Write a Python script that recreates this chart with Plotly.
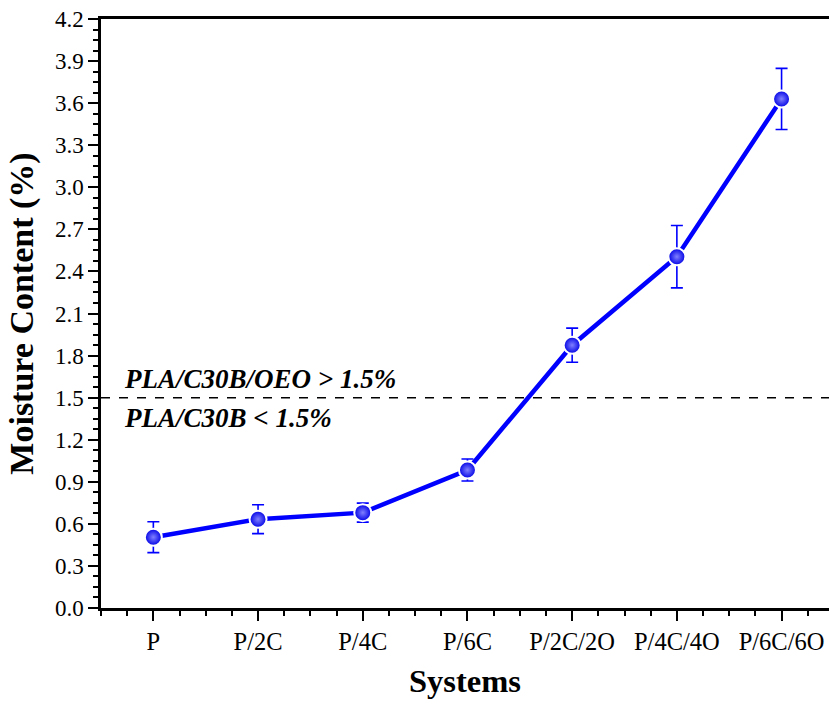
import plotly.graph_objects as go

systems = ["P", "P/2C", "P/4C", "P/6C", "P/2C/2O", "P/4C/4O", "P/6C/6O"]
moisture = [0.505, 0.633, 0.680, 0.984, 1.874, 2.505, 3.630]
errors = [0.110, 0.103, 0.068, 0.078, 0.122, 0.222, 0.218]
threshold = 1.5
label_above = "PLA/C30B/OEO > 1.5%"
label_below = "PLA/C30B < 1.5%"

xpos = list(range(len(systems)))
FONT = "Liberation Serif, Times New Roman, serif"
BLUE = "#0000FF"

fig = go.Figure()
fig.add_trace(go.Scatter(
    x=xpos, y=moisture, mode="lines",
    line=dict(color=BLUE, width=4.5),
    hoverinfo="skip", showlegend=False,
))
fig.add_trace(go.Scatter(
    x=xpos, y=moisture, mode="markers",
    error_y=dict(type="data", array=errors, visible=True, color=BLUE,
                 thickness=1.6, width=6),
    marker=dict(size=17, color="#0000E6",
                gradient=dict(type="radial", color="#8080FF"),
                line=dict(color="white", width=2)),
    showlegend=False,
))

fig.add_shape(type="line", xref="paper", x0=0, x1=1, yref="y", y0=threshold, y1=threshold,
              line=dict(color="black", width=1.5, dash="dash"))

fig.add_annotation(xref="paper", x=0.029, xanchor="left", yref="y", y=1.633, yanchor="middle",
                   text=label_above, showarrow=False,
                   font=dict(family=FONT, size=27, color="black", weight="bold", style="italic"))
fig.add_annotation(xref="paper", x=0.029, xanchor="left", yref="y", y=1.355, yanchor="middle",
                   text=label_below, showarrow=False,
                   font=dict(family=FONT, size=27, color="black", weight="bold", style="italic"))

fig.update_xaxes(
    range=[-0.5, 6.453], tickmode="array", tickvals=xpos, ticktext=systems,
    showline=True, linecolor="black", linewidth=2.5, mirror=True,
    ticks="outside", ticklen=10, tickwidth=2, tickcolor="black",
    minor=dict(dtick=0.25, tick0=-0.5, ticks="outside", ticklen=5, tickwidth=2, tickcolor="black"),
    showgrid=False, zeroline=False,
    tickfont=dict(family=FONT, size=24.5, color="black"),
    title=dict(text="<b>Systems</b>", font=dict(family=FONT, size=32.5, color="black"), standoff=16),
)
fig.update_yaxes(
    range=[0, 4.2], tickmode="linear", tick0=0, dtick=0.3, tickformat=".1f",
    showline=True, linecolor="black", linewidth=2.5, mirror=False,
    ticks="outside", ticklen=10, tickwidth=2, tickcolor="black",
    minor=dict(dtick=0.075, tick0=0, ticks="outside", ticklen=5, tickwidth=2, tickcolor="black"),
    showgrid=False, zeroline=False,
    tickfont=dict(family=FONT, size=23, color="black"),
    title=dict(text="<b>Moisture Content (%)</b>", font=dict(family=FONT, size=34, color="black"), standoff=12),
)

fig.update_layout(
    width=829, height=704,
    margin=dict(l=101, r=0, t=19, b=96),
    paper_bgcolor="white", plot_bgcolor="white",
)

fig.write_html("out.html", config={"displayModeBar": False},
               post_script="document.body.style.margin='0';document.body.style.overflow='hidden';")
